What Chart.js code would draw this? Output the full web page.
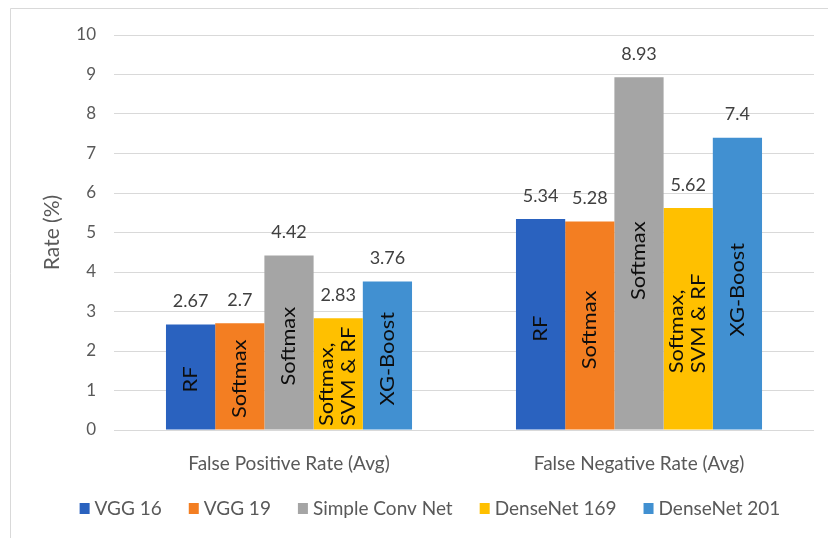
<!DOCTYPE html>
<html>
<head>
<meta charset="utf-8">
<script src="https://cdn.jsdelivr.net/npm/chart.js@4/dist/chart.umd.min.js"></script>
<style>
  html, body { margin: 0; padding: 0; background: #fff; }
  canvas { display: block; }
</style>
</head>
<body>
<canvas id="chart" width="828" height="538"></canvas>
<script>
// Error rates per metric, one array per network
const categories = ['False Positive Rate (Avg)', 'False Negative Rate (Avg)'];
const seriesNames = ['VGG 16', 'VGG 19', 'Simple Conv Net', 'DenseNet 169', 'DenseNet 201'];
const vgg16 = [2.67, 5.34];
const vgg19 = [2.7, 5.28];
const simpleConvNet = [4.42, 8.93];
const denseNet169 = [2.83, 5.62];
const denseNet201 = [3.76, 7.4];
// Classifier used on top of each network (written inside the bars)
const classifiers = [['RF'], ['Softmax'], ['Softmax'], ['Softmax,', 'SVM & RF'], ['XG-Boost']];
const yTicks = [0, 1, 2, 3, 4, 5, 6, 7, 8, 9, 10];

const seriesValues = [vgg16, vgg19, simpleConvNet, denseNet169, denseNet201];
const colors = ['#2A62BF', '#F37E22', '#A5A5A5', '#FFC000', '#4190D1'];

const FONT = 'Lato, "Open Sans", sans-serif';

// Light frame around the whole figure
const framePlugin = {
  id: 'frame',
  beforeDraw(chart) {
    const ctx = chart.ctx;
    ctx.save();
    ctx.fillStyle = '#fff';
    ctx.fillRect(0, 0, chart.width, chart.height);
    ctx.strokeStyle = '#d9d9d9';
    ctx.lineWidth = 1;
    ctx.beginPath();
    ctx.moveTo(10.5, chart.height);
    ctx.lineTo(10.5, 8.5);
    ctx.lineTo(chart.width, 8.5);
    ctx.stroke();
    ctx.restore();
  }
};

// Value above each bar and classifier name written vertically inside it
const barLabelsPlugin = {
  id: 'barLabels',
  afterDatasetsDraw(chart) {
    const ctx = chart.ctx;
    const yScale = chart.scales.y;
    chart.data.datasets.forEach((ds, di) => {
      const meta = chart.getDatasetMeta(di);
      meta.data.forEach((bar, i) => {
        const v = ds.data[i];
        ctx.save();
        ctx.font = '18px ' + FONT;
        ctx.fillStyle = '#404040';
        ctx.textAlign = 'center';
        ctx.textBaseline = 'alphabetic';
        ctx.fillText(String(v), bar.x, bar.y - 17.5);
        ctx.restore();

        const lines = classifiers[di];
        const cy = yScale.getPixelForValue(v * 0.48);
        ctx.save();
        ctx.font = '19px ' + FONT;
        ctx.fillStyle = '#0d0d0d';
        ctx.translate(bar.x, cy);
        ctx.rotate(-Math.PI / 2);
        ctx.scale(1.15, 1);
        const lineGap = 22;
        const widths = lines.map(l => ctx.measureText(l).width);
        const maxW = Math.max(...widths);
        ctx.textBaseline = 'middle';
        ctx.textAlign = 'left';
        lines.forEach((l, li) => {
          const off = (li - (lines.length - 1) / 2) * lineGap;
          ctx.fillText(l, -maxW / 2, off);
        });
        ctx.restore();
      });
    });
  }
};

// Legend row at the bottom
const legendPlugin = {
  id: 'bottomLegend',
  afterDraw(chart) {
    const ctx = chart.ctx;
    ctx.save();
    ctx.font = '19px ' + FONT;
    const box = 10, boxGap = 5, itemGap = 27;
    const items = chart.data.datasets.map(ds => ({ text: ds.label, color: ds.backgroundColor, w: ctx.measureText(ds.label).width }));
    const total = items.reduce((s, it) => s + box + boxGap + it.w, 0) + itemGap * (items.length - 1);
    let x = 430 - total / 2;
    const cy = 508.5;
    ctx.textBaseline = 'middle';
    ctx.textAlign = 'left';
    items.forEach(it => {
      ctx.fillStyle = it.color;
      ctx.fillRect(x, cy - 5.5, box, 11);
      ctx.fillStyle = '#595959';
      ctx.fillText(it.text, x + box + boxGap, cy);
      x += box + boxGap + it.w + itemGap;
    });
    ctx.restore();
  }
};

new Chart(document.getElementById('chart'), {
  type: 'bar',
  data: {
    labels: categories,
    datasets: seriesNames.map((name, i) => ({
      label: name,
      data: seriesValues[i],
      backgroundColor: colors[i],
      borderWidth: 0,
      barPercentage: 1,
      categoryPercentage: 0.703
    }))
  },
  options: {
    responsive: false,
    animation: false,
    devicePixelRatio: 1,
    layout: { padding: { top: 35, right: 14, left: 30, bottom: 0 } },
    plugins: {
      legend: { display: false },
      tooltip: { enabled: false }
    },
    scales: {
      x: {
        grid: { display: false },
        border: { display: false },
        ticks: { color: '#595959', font: { family: FONT, size: 19 }, padding: 14 },
        afterFit(scale) { scale.height = 108; }
      },
      y: {
        min: 0,
        max: 10,
        afterBuildTicks(scale) { scale.ticks = yTicks.map(v => ({ value: v })); },
        grid: { color: '#d9d9d9', lineWidth: 1, drawTicks: false },
        border: { display: false },
        ticks: { color: '#595959', font: { family: FONT, size: 17 }, padding: 18 },
        title: {
          display: true,
          text: 'Rate (%)',
          color: '#595959',
          font: { family: FONT, size: 21 },
          padding: { top: 10, bottom: 0 }
        },
        afterFit(scale) { scale.width = 84; }
      }
    }
  },
  plugins: [framePlugin, barLabelsPlugin, legendPlugin]
});
</script>
</body>
</html>
